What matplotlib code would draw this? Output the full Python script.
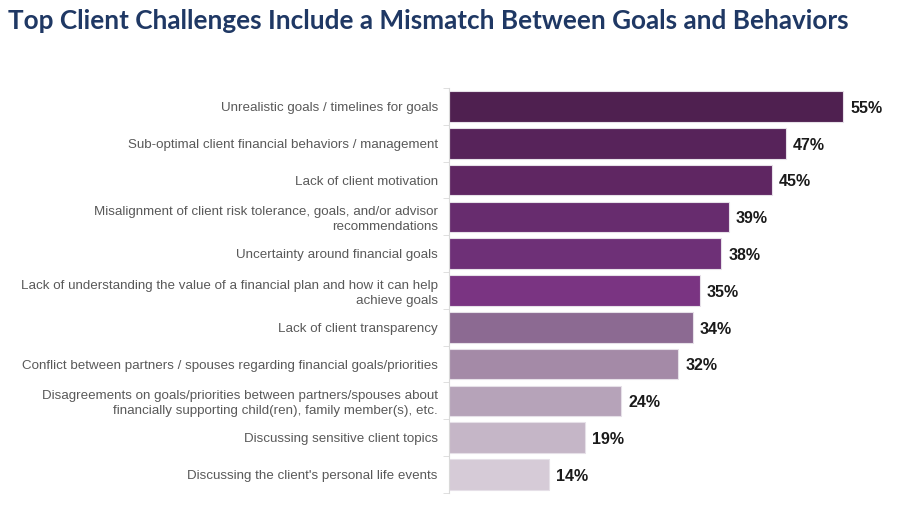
import matplotlib.pyplot as plt
import numpy as np

categories = [
    "Unrealistic goals / timelines for goals",
    "Sub-optimal client financial behaviors / management",
    "Lack of client motivation",
    "Misalignment of client risk tolerance, goals, and/or advisor\nrecommendations",
    "Uncertainty around financial goals",
    "Lack of understanding the value of a financial plan and how it can help\nachieve goals",
    "Lack of client transparency",
    "Conflict between partners / spouses regarding financial goals/priorities",
    "Disagreements on goals/priorities between partners/spouses about\nfinancially supporting child(ren), family member(s), etc.",
    "Discussing sensitive client topics",
    "Discussing the client's personal life events",
]
values = [55, 47, 45, 39, 38, 35, 34, 32, 24, 19, 14]
colors = ["#4F2050", "#57235A", "#5F2662", "#672C6E", "#6E3077", "#7A3482",
          "#8C6A92", "#A48AA7", "#B6A3B9", "#C5B6C7", "#D6CBD7"]

plt.rcParams['font.family'] = ['Liberation Sans', 'DejaVu Sans']

fig = plt.figure(figsize=(9.07, 5.15), dpi=100)
ax = fig.add_axes([0.495, 0.043, 0.49, 0.786])

y = np.arange(len(values))
ax.barh(y, values, height=0.83, color=colors, edgecolor='#E6E0E8', linewidth=0.8)
ax.set_ylim(len(values) - 0.5, -0.5)
ax.set_xlim(0, 62)

# value labels at bar ends
for yi, v in zip(y, values):
    ax.text(v + 1.0, yi + 0.05, f"{v}%", va='center', ha='left', fontsize=11.5,
            fontweight='bold', color='#1A1A1A')

ax.set_yticks(y)
ax.set_yticklabels(categories, fontsize=9.6, color='#595959', linespacing=1.3)
ax.tick_params(axis='y', length=0, pad=8)
ax.set_yticks(np.arange(len(values) + 1) - 0.5, minor=True)
ax.tick_params(axis='y', which='minor', length=4, color='#D9D9D9')
ax.set_xticks([])

for s in ['top', 'right', 'bottom']:
    ax.spines[s].set_visible(False)
ax.spines['left'].set_color('#D9D9D9')

fig.text(0.009, 0.96, "Top Client Challenges Include a Mismatch Between Goals and Behaviors",
         fontsize=18.8, fontweight='bold', color='#1F3864', family='Lato', va='center')

fig.savefig('out.png', dpi=100)
